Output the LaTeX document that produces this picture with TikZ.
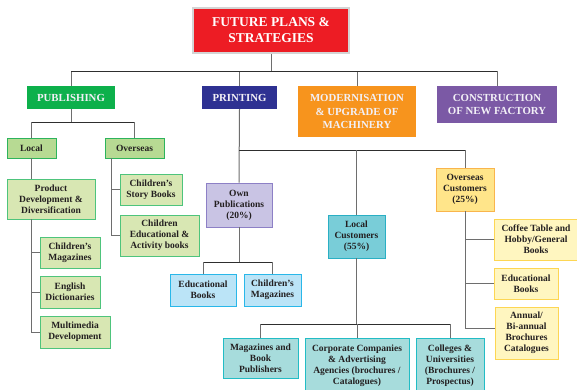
\documentclass[tikz,border=0pt]{standalone}
\usepackage{fontspec}
\setmainfont{Liberation Serif}
\definecolor{titlered}{HTML}{ED1C24}
\definecolor{titleedge}{HTML}{D4D4D4}
\definecolor{pubgreen}{HTML}{0DB04B}
\definecolor{prtnavy}{HTML}{2E3192}
\definecolor{modorange}{HTML}{F7941D}
\definecolor{conpurple}{HTML}{7B59A5}
\definecolor{hdrtext}{HTML}{F2F0F6}
\definecolor{txt}{HTML}{231F20}
\definecolor{gmidfill}{HTML}{B7DA93}
\definecolor{gmidedge}{HTML}{2DB45C}
\definecolor{glightfill}{HTML}{D8E7B3}
\definecolor{glightedge}{HTML}{4EC47C}
\definecolor{lavfill}{HTML}{C9C4E4}
\definecolor{lavedge}{HTML}{8D80C6}
\definecolor{bluefill}{HTML}{BBE4F7}
\definecolor{blueedge}{HTML}{29B7E9}
\definecolor{tealfill}{HTML}{79CDD8}
\definecolor{tealedge}{HTML}{2AAFC4}
\definecolor{tlfill}{HTML}{A7DCDC}
\definecolor{tledge}{HTML}{22BCC5}
\definecolor{ocfill}{HTML}{FFE58A}
\definecolor{ocedge}{HTML}{F9B54C}
\definecolor{yfill}{HTML}{FFF6C0}
\definecolor{yedge}{HTML}{FDD653}
\definecolor{vline}{HTML}{6E6E6E}
\definecolor{hline}{HTML}{2E2E2E}
\tikzset{
  box/.style={draw, line width=0.9pt, align=center, inner sep=0pt, text=txt,
    font=\fontsize{9.5}{11}\selectfont\bfseries},
  hdr/.style={align=center, inner sep=0pt, text=hdrtext,
    font=\fontsize{10.8}{13.5}\selectfont\bfseries},
  gmid/.style={box, fill=gmidfill, draw=gmidedge},
  glight/.style={box, fill=glightfill, draw=glightedge},
  lav/.style={box, fill=lavfill, draw=lavedge},
  bluebox/.style={box, fill=bluefill, draw=blueedge},
  tealbox/.style={box, fill=tealfill, draw=tealedge},
  tlbox/.style={box, fill=tlfill, draw=tledge},
  ocbox/.style={box, fill=ocfill, draw=ocedge},
  ybox/.style={box, fill=yfill, draw=yedge},
  vl/.style={draw=vline, line width=1pt},
  hl/.style={draw=hline, line width=1pt},
}
\begin{document}
\begin{tikzpicture}[x=1pt, y=-1pt]
\useasboundingbox (0,0) rectangle (577,389);
\clip (0,0) rectangle (577,389);
\fill[white] (0,0) rectangle (577,389);
% title
\node[draw=titleedge, line width=2pt, fill=titlered, text=white, align=center, inner sep=0pt,
  font=\fontsize{13.5}{16}\selectfont\bfseries, minimum width=156pt, minimum height=45pt]
  (title) at (271,30.5) {FUTURE PLANS \&\\STRATEGIES};
% headers
\node[hdr, fill=pubgreen, minimum width=88pt, minimum height=23pt] (pub) at (71,97.5) {PUBLISHING};
\node[hdr, fill=prtnavy, minimum width=75pt, minimum height=23pt] (prt) at (239.5,97.5) {PRINTING};
\node[hdr, fill=modorange, minimum width=118pt, minimum height=51pt] (mod) at (357,111.5) {MODERNISATION\\\& UPGRADE OF\\MACHINERY};
\node[hdr, fill=conpurple, minimum width=120pt, minimum height=37pt] (con) at (497,104.5) {CONSTRUCTION\\OF NEW FACTORY};
% publishing subtree
\node[gmid, minimum width=49pt, minimum height=20pt] (local) at (31.5,148) {Local};
\node[gmid, minimum width=59pt, minimum height=20pt] (ovs) at (134.5,148) {Overseas};
\node[glight, minimum width=88pt, minimum height=40pt] (pd) at (51,199) {Product\\Development \&\\Diversification};
\node[glight, minimum width=60pt, minimum height=31pt] (cm) at (70,252.5) {Children's\\Magazines};
\node[glight, minimum width=60pt, minimum height=32pt] (ed) at (70,292) {English\\Dictionaries};
\node[glight, minimum width=70pt, minimum height=32pt] (mm) at (75,332) {Multimedia\\Development};
\node[glight, minimum width=62pt, minimum height=31pt] (csb) at (151,189.5) {Children's\\Story Books};
\node[glight, minimum width=79pt, minimum height=41pt] (cea) at (159.5,235.5) {Children\\Educational \&\\Activity books};
% printing subtree
\node[lav, minimum width=66pt, minimum height=44pt] (own) at (239,205) {Own\\Publications\\(20\%)};
\node[bluebox, minimum width=66pt, minimum height=32pt] (eb) at (203,290) {Educational\\Books};
\node[bluebox, minimum width=57pt, minimum height=32pt] (cmag) at (272.5,290) {Children's\\Magazines};
\node[tealbox, minimum width=57pt, minimum height=43pt] (lc) at (356.5,236.5) {Local\\Customers\\(55\%)};
\node[tlbox, minimum width=75pt, minimum height=40pt] (mbp) at (260.5,358) {Magazines and\\Book\\Publishers};
\node[tlbox, minimum width=104pt, minimum height=56pt] (corp) at (357,366) {Corporate Companies\\\& Advertising\\Agencies (brochures /\\Catalogues)};
\node[tlbox, minimum width=68pt, minimum height=56pt] (col) at (450,366) {Colleges \&\\Universities\\(Brochures /\\Prospectus)};
\node[ocbox, minimum width=58pt, minimum height=43pt] (oc) at (465,189.5) {Overseas\\Customers\\(25\%)};
\node[ybox, minimum width=84pt, minimum height=41pt] (cof) at (536,239.5) {Coffee Table and\\Hobby/General\\Books};
\node[ybox, minimum width=64pt, minimum height=31pt] (edb) at (526,283.5) {Educational\\Books};
\node[ybox, minimum width=63pt, minimum height=52pt] (ann) at (526.5,333) {Annual/\\Bi-annual\\Brochures\\Catalogues};
% buses
\coordinate (bus1) at (0,71);
\coordinate (bus2) at (0,122);
\coordinate (bus3) at (0,150);
\coordinate (bus4) at (0,262);
\coordinate (bus5) at (0,324);
\coordinate (ovx) at (111,158);
\coordinate (pdx) at (31,219);
% top level
\draw[vl] (title.south) -- (title.south |- bus1);
\draw[vl] (pub.north |- bus1) -- (pub.north);
\draw[vl] (prt.north |- bus1) -- (prt.north);
\draw[vl] (mod.north |- bus1) -- (mod.north);
\draw[vl] (con.north |- bus1) -- (con.north);
\draw[hl] (pub.north |- bus1) -- (con.north |- bus1);
% publishing
\draw[vl] (pub.south) -- (pub.south |- bus2);
\draw[hl] (local.north |- bus2) -- (ovs.north |- bus2);
\draw[vl] (local.north |- bus2) -- (local.north);
\draw[vl] (ovs.north |- bus2) -- (ovs.north);
\draw[vl] (local.south) -- (local.south |- pd.north);
\draw[vl] (pdx) |- ([yshift=-0.5pt]mm.west);
\draw[vl] (pdx |- cm.west) -- (cm.west);
\draw[vl] (pdx |- ed.west) -- (ed.west);
\draw[vl] (ovx) |- (cea.west);
\draw[vl] (ovx |- csb.west) -- (csb.west);
% printing
\draw[vl] (prt.south) -- (own.north);
\draw[hl] (own.north |- bus3) -- (oc.north |- bus3);
\draw[vl] (lc.north |- bus3) -- (lc.north);
\draw[vl] (oc.north |- bus3) -- (oc.north);
\draw[vl] (own.south) -- (own.south |- bus4);
\draw[hl] (eb.north |- bus4) -- (cmag.north |- bus4);
\draw[vl] (eb.north |- bus4) -- (eb.north);
\draw[vl] (cmag.north |- bus4) -- (cmag.north);
\draw[vl] (lc.south) -- (lc.south |- bus5);
\draw[hl] (mbp.north |- bus5) -- (col.north |- bus5);
\draw[vl] (mbp.north |- bus5) -- (mbp.north);
\draw[vl] (corp.north |- bus5) -- (corp.north);
\draw[vl] (col.north |- bus5) -- (col.north);
\draw[vl] (oc.south) |- ([yshift=5pt]ann.west);
\draw[vl] (oc.south |- cof.west) -- (cof.west);
\draw[vl] (oc.south |- edb.west) -- (edb.west);
\end{tikzpicture}
\end{document}
